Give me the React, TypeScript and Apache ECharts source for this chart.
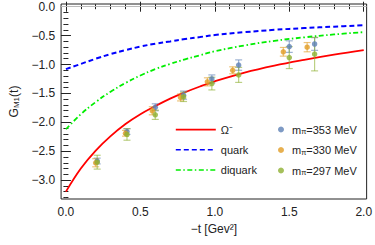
import React, { useEffect, useRef } from "react";
import * as echarts from "echarts";

// ---- data ----
const curveT = [0, 0.1, 0.2, 0.3, 0.4, 0.5, 0.6, 0.7, 0.8, 0.9, 1.0, 1.2, 1.4, 1.6, 1.8, 2.0];
const omegaG = [-3.2, -2.8, -2.49, -2.24, -2.03, -1.86, -1.72, -1.59, -1.48, -1.38, -1.29, -1.14, -1.02, -0.92, -0.83, -0.75];
const quarkG = [-1.08, -0.99, -0.9, -0.82, -0.75, -0.69, -0.64, -0.6, -0.56, -0.525, -0.49, -0.44, -0.4, -0.37, -0.345, -0.32];
const diquarkG = [-2.12, -1.86, -1.65, -1.47, -1.32, -1.19, -1.08, -0.99, -0.91, -0.84, -0.77, -0.67, -0.59, -0.53, -0.48, -0.44];

const blueT = [0.21, 0.41, 0.6, 0.79, 0.98, 1.16, 1.5, 1.67];
const blueG = [-2.67, -2.16, -1.74, -1.53, -1.25, -1.01, -0.69, -0.645];
const blueErr = [0.05, 0.05, 0.06, 0.07, 0.07, 0.09, 0.1, 0.11];

const orangeT = [0.2, 0.4, 0.58, 0.77, 0.95, 1.12, 1.46, 1.62];
const orangeG = [-2.7, -2.19, -1.8, -1.57, -1.3, -1.1, -0.78, -0.7];
const orangeErr = [0.07, 0.05, 0.07, 0.06, 0.07, 0.06, 0.075, 0.08];

const greenT = [0.21, 0.41, 0.6, 0.79, 0.98, 1.16, 1.5, 1.67];
const greenG = [-2.69, -2.21, -1.87, -1.56, -1.33, -1.18, -0.88, -0.82];
const greenErr = [0.12, 0.1, 0.08, 0.08, 0.11, 0.13, 0.19, 0.29];

const xMajor = [0, 0.5, 1.0, 1.5, 2.0];
const yMajor = [0, -0.5, -1.0, -1.5, -2.0, -2.5, -3.0];
const xMinor = Array.from({ length: 21 }, (_, i) => +(i * 0.1).toFixed(1));
const yMinor = Array.from({ length: 34 }, (_, i) => +(-i * 0.1).toFixed(1));

const seriesNames = ["Ω⁻", "quark", "diquark"];
const pointNames = ["mπ=353 MeV", "mπ=330 MeV", "mπ=297 MeV"];

const FONT = "'Liberation Sans', Arial, sans-serif";
const X_MIN = -0.0325, X_MAX = 2.0195;
const Y_MIN = -3.327, Y_MAX = 0.047;

const fmt = (v: number) => v.toFixed(1).replace("-", "\u2212");

function xAxisDef(pos: string, major: boolean, labels: boolean, name?: string) {
  return {
    type: "value", position: pos, min: X_MIN, max: X_MAX,
    axisLine: { show: false },
    splitLine: { show: false },
    axisTick: { show: true, inside: true, length: major ? 5 : 2.5, customValues: major ? xMajor : xMinor, lineStyle: { color: "#222", width: 1 } },
    axisLabel: labels
      ? { show: true, customValues: xMajor, formatter: fmt, color: "#222", fontSize: 12, fontFamily: FONT, margin: 7 }
      : { show: false },
    name: name,
    nameLocation: "middle",
    nameGap: 23,
    nameTextStyle: { color: "#222", fontSize: 12, fontFamily: FONT },
  };
}
function yAxisDef(pos: string, major: boolean, labels: boolean, withName?: boolean) {
  return {
    type: "value", position: pos, min: Y_MIN, max: Y_MAX,
    axisLine: { show: false },
    splitLine: { show: false },
    axisTick: { show: true, inside: true, length: major ? 5 : 2.5, customValues: major ? yMajor : yMinor, lineStyle: { color: "#222", width: 1 } },
    axisLabel: labels
      ? { show: true, customValues: yMajor, formatter: fmt, color: "#222", fontSize: 12, fontFamily: FONT, margin: 6 }
      : { show: false },
    name: withName ? "{g|G}{s|M1}{g|(t)}" : undefined,
    nameLocation: "middle",
    nameGap: 36,
    nameRotate: 90,
    nameTextStyle: {
      color: "#222", fontFamily: FONT,
      rich: {
        g: { fontSize: 12, fontFamily: FONT, color: "#222" },
        s: { fontSize: 8, fontFamily: FONT, color: "#222", verticalAlign: "bottom", padding: [5, 0, 0, 0] },
      },
    },
  };
}

function errSeries(ts: number[], gs: number[], es: number[], color: string) {
  return {
    type: "custom",
    xAxisIndex: 0, yAxisIndex: 0,
    data: ts.map((t, i) => [t, gs[i] - es[i], gs[i] + es[i]]),
    encode: { x: 0, y: [1, 2] },
    z: 3,
    silent: true,
    renderItem: (params: any, api: any) => {
      const x = api.value(0);
      const p1 = api.coord([x, api.value(1)]);
      const p2 = api.coord([x, api.value(2)]);
      const cap = 3.5;
      const style = { stroke: color, lineWidth: 1.2, opacity: 0.6 };
      return {
        type: "group",
        children: [
          { type: "line", shape: { x1: p1[0], y1: p1[1], x2: p2[0], y2: p2[1] }, style },
          { type: "line", shape: { x1: p1[0] - cap, y1: p1[1], x2: p1[0] + cap, y2: p1[1] }, style },
          { type: "line", shape: { x1: p2[0] - cap, y1: p2[1], x2: p2[0] + cap, y2: p2[1] }, style },
        ],
      };
    },
  };
}

function pointSeries(name: string, ts: number[], gs: number[], color: string) {
  return {
    type: "scatter", name,
    data: ts.map((t, i) => [t, gs[i]]),
    symbol: "circle", symbolSize: 5.5,
    itemStyle: { color },
    z: 4,
  };
}

const BLUE = "#5E81B5", ORANGE = "#E19C24", GREEN = "#8FB032";

export default function App() {
  const ref = useRef<HTMLDivElement>(null);
  useEffect(() => {
    if (!ref.current) return;
    const chart = echarts.init(ref.current, undefined, { renderer: "svg" });
    const richLegend = {
      m: { fontSize: 11, fontFamily: FONT, color: "#222" },
      f: { fontSize: 11, fontFamily: FONT, color: "#222", padding: [0, 0, 0, 3] },
      p: { fontSize: 7.5, fontFamily: FONT, color: "#222", verticalAlign: "bottom", padding: [4, 0, 0, 0] },
    };
    chart.setOption({
      animation: false,
      grid: { left: 53, right: 6, top: 4, bottom: 46, show: true, borderColor: "#222", borderWidth: 1, backgroundColor: "transparent" },
      xAxis: [
        xAxisDef("bottom", true, true, "\u2212t [Gev²]"),
        xAxisDef("bottom", false, false),
        xAxisDef("top", true, false),
        xAxisDef("top", false, false),
      ],
      yAxis: [
        yAxisDef("left", true, true, true),
        yAxisDef("left", false, false),
        yAxisDef("right", true, false),
        yAxisDef("right", false, false),
      ],
      legend: [
        {
          data: seriesNames,
          orient: "vertical", left: 170, top: 119,
          itemWidth: 40, itemHeight: 14, itemGap: 9,
          itemStyle: { opacity: 0 },
          lineStyle: { width: 1.6 },
          textStyle: { fontSize: 11, fontFamily: FONT, color: "#222" },
          selectedMode: false,
        },
        {
          data: pointNames,
          orient: "vertical", left: 273, top: 119,
          itemWidth: 6, itemHeight: 14, itemGap: 9,
          icon: "circle",
          formatter: (n: string) => `{f|m}{p|π}{m|${n.slice(2)}}`,
          textStyle: { fontSize: 11, fontFamily: FONT, color: "#222", rich: richLegend },
          selectedMode: false,
        },
      ],
      series: [
        {
          type: "line", name: seriesNames[0], data: curveT.map((t, i) => [t, omegaG[i]]),
          smooth: 0.4, symbol: "none", color: "#FF0000",
          lineStyle: { color: "#FF0000", width: 1.8 }, z: 2,
          markLine: {
            silent: true, symbol: "none", label: { show: false },
            lineStyle: { color: "#BBBBBB", width: 1, type: "solid" },
            data: [{ yAxis: 0 }],
          },
        },
        {
          type: "line", name: seriesNames[1], data: curveT.map((t, i) => [t, quarkG[i]]),
          smooth: 0.4, symbol: "none", color: "#0000FF",
          lineStyle: { color: "#0000FF", width: 2, type: [5, 3] }, z: 2,
        },
        {
          type: "line", name: seriesNames[2], data: curveT.map((t, i) => [t, diquarkG[i]]),
          smooth: 0.4, symbol: "none", color: "#00EE00",
          lineStyle: { color: "#00EE00", width: 1.8, type: [5, 2.5, 1.5, 2.5] }, z: 2,
        },
        errSeries(blueT, blueG, blueErr, BLUE),
        errSeries(orangeT, orangeG, orangeErr, ORANGE),
        errSeries(greenT, greenG, greenErr, GREEN),
        pointSeries(pointNames[0], blueT, blueG, BLUE),
        pointSeries(pointNames[1], orangeT, orangeG, ORANGE),
        pointSeries(pointNames[2], greenT, greenG, GREEN),
      ],
    });
    return () => chart.dispose();
  }, []);
  return <div ref={ref} style={{ width: 375, height: 245, position: "absolute", left: 0, top: 0 }} />;
}
